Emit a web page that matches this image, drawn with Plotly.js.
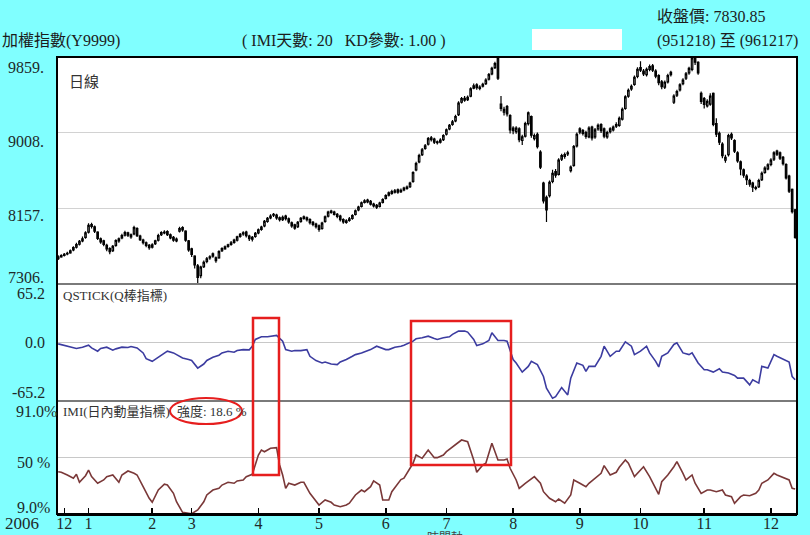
<!DOCTYPE html>
<html><head><meta charset="utf-8">
<script src="https://cdn.plot.ly/plotly-3.0.1.min.js"></script>
<style>html,body{margin:0;padding:0;background:#80FFFF;}#chart{width:810px;height:535px;}</style>
</head><body><div id="chart"></div>
<script>
// Daily candles: 加權指數 951218 ~ 961217 (trading-day index 0..243)
const openPx = [
7590,7612,7628,7645,7655,7690,7720,7755,7790,7830,
7890,7975,7950,7890,7815,7790,7740,7705,7680,7740,
7790,7825,7855,7880,7860,7870,7930,7845,7800,7770,
7740,7720,7760,7800,7860,7880,7895,7860,7830,7790,
7900,7940,7900,7790,7700,7620,7510,7400,7500,7560,
7600,7620,7600,7600,7680,7700,7730,7750,7775,7800,
7840,7870,7890,7845,7810,7840,7880,7920,7960,8010,
8050,8090,8080,8050,8030,8070,8040,7995,7970,7950,
8010,8060,8050,8030,8000,7980,7960,7930,8010,8070,
8125,8115,8090,8070,8030,8000,8020,8045,8090,8140,
8180,8225,8250,8235,8205,8190,8180,8225,8270,8305,
8325,8340,8365,8345,8365,8380,8400,8460,8590,8680,
8760,8830,8880,8950,8935,8905,8900,8930,8990,9050,
9100,9140,9210,9350,9395,9380,9420,9510,9545,9505,
9530,9560,9610,9670,9740,9840,9330,9240,9300,9200,
9060,9020,9050,8920,8970,9110,9190,8940,8990,8790,
8440,8280,8300,8460,8570,8540,8710,8740,8770,8580,
8640,8860,9050,9030,9010,8960,9070,8960,9050,9100,
9050,8960,9020,9040,9080,9090,9160,9280,9420,9500,
9550,9640,9740,9700,9660,9720,9760,9700,9650,9580,
9520,9580,9660,9350,9430,9490,9560,9620,9680,9720,
9845,9800,9450,9390,9310,9330,9450,9110,9000,8880,
8700,8760,8990,8920,8780,8680,8590,8520,8470,8440,
8380,8400,8480,8560,8600,8650,8710,8800,8780,8730,
8650,8520,8370,8140];
const highPx = [
7630,7640,7655,7670,7695,7730,7770,7800,7840,7900,
7990,7995,7965,7900,7830,7805,7760,7720,7745,7810,
7830,7870,7905,7895,7875,7960,7945,7860,7815,7785,
7755,7765,7805,7870,7900,7910,7910,7875,7845,7830,
7950,7955,7910,7800,7715,7630,7530,7510,7570,7610,
7630,7660,7615,7685,7720,7740,7760,7790,7815,7850,
7880,7900,7905,7860,7845,7890,7930,7960,8025,8060,
8090,8105,8095,8065,8075,8085,8055,8010,7985,8015,
8060,8075,8065,8045,8015,7995,7975,8005,8075,8130,
8140,8130,8105,8085,8045,8035,8060,8090,8145,8185,
8235,8260,8265,8250,8220,8205,8230,8270,8315,8345,
8365,8375,8380,8380,8400,8415,8455,8575,8680,8770,
8835,8880,8960,8970,8950,8920,8945,8990,9055,9105,
9150,9210,9360,9410,9420,9425,9520,9560,9565,9540,
9570,9620,9680,9750,9805,9859,9420,9300,9320,9215,
9080,9080,9070,8985,9130,9245,9200,9000,9010,8810,
8455,8300,8470,8590,8600,8720,8770,8785,8805,8640,
8870,9010,9070,9050,9030,9080,9085,9060,9110,9115,
9065,9030,9070,9090,9125,9190,9290,9430,9505,9550,
9650,9745,9810,9725,9740,9775,9780,9720,9665,9600,
9595,9670,9705,9440,9490,9565,9620,9690,9750,9855,
9850,9810,9470,9410,9385,9450,9460,9170,9020,8900,
8760,8995,9010,8935,8800,8695,8605,8540,8490,8455,
8410,8490,8570,8630,8665,8720,8800,8815,8795,8745,
8665,8535,8380,8150];
const lowPx = [
7575,7600,7615,7630,7645,7675,7705,7740,7775,7815,
7875,7930,7880,7800,7760,7730,7675,7640,7665,7725,
7770,7810,7840,7835,7815,7855,7835,7790,7750,7720,
7690,7705,7745,7785,7845,7865,7845,7810,7780,7775,
7885,7895,7780,7670,7610,7480,7306,7370,7485,7540,
7580,7600,7545,7590,7665,7690,7715,7735,7760,7785,
7825,7850,7830,7790,7785,7825,7865,7905,7945,7995,
8035,8060,8030,8010,8015,8020,7985,7940,7915,7935,
7995,8030,8010,7975,7955,7930,7895,7915,7995,8055,
8095,8075,8045,8010,7985,7985,8005,8030,8075,8125,
8165,8210,8215,8190,8165,8150,8165,8210,8255,8290,
8310,8325,8320,8330,8350,8365,8385,8445,8575,8665,
8745,8815,8865,8910,8880,8875,8885,8915,8975,9035,
9085,9125,9195,9335,9355,9365,9405,9495,9490,9485,
9515,9545,9595,9655,9725,9600,9250,9200,9190,9000,
8990,8995,8900,8870,8955,9090,8950,8920,8830,8600,
8210,8003,8280,8440,8500,8525,8690,8715,8745,8560,
8625,8840,8990,8975,8940,8945,8920,8940,9030,9005,
8945,8940,9000,9020,9060,9075,9145,9265,9400,9480,
9535,9620,9690,9645,9640,9700,9690,9620,9540,9495,
9500,9560,9640,9330,9410,9470,9540,9600,9660,9700,
9770,9660,9330,9280,9290,9310,9080,8960,8870,8720,
8670,8740,8925,8780,8670,8530,8500,8420,8400,8340,
8360,8385,8465,8545,8585,8630,8690,8745,8700,8640,
8480,8330,8100,7815];
const closePx = [
7610,7625,7640,7650,7680,7715,7750,7785,7815,7880,
7965,7955,7900,7820,7780,7750,7700,7670,7730,7795,
7815,7850,7885,7855,7835,7940,7850,7805,7770,7740,
7715,7745,7790,7850,7885,7890,7860,7825,7800,7810,
7930,7915,7800,7690,7640,7520,7380,7495,7550,7590,
7610,7645,7570,7670,7705,7725,7745,7770,7800,7835,
7865,7880,7850,7815,7830,7875,7915,7945,8010,8045,
8070,8080,8050,8030,8055,8040,8005,7960,7935,8000,
8045,8045,8030,7995,7975,7950,7920,7990,8060,8115,
8110,8090,8065,8030,8005,8015,8040,8075,8130,8170,
8220,8240,8230,8205,8185,8170,8215,8255,8300,8330,
8345,8355,8340,8360,8385,8395,8440,8560,8660,8750,
8815,8860,8940,8930,8900,8895,8925,8975,9040,9090,
9130,9190,9340,9390,9375,9405,9500,9535,9515,9520,
9550,9600,9660,9730,9785,9620,9280,9270,9220,9040,
9030,9060,8930,8960,9110,9230,8980,8975,8850,8620,
8240,8140,8450,8550,8530,8700,8750,8760,8780,8620,
8850,8990,9015,9000,8965,9060,8950,9040,9090,9030,
8970,9010,9050,9070,9100,9170,9270,9410,9485,9530,
9630,9720,9710,9670,9720,9750,9710,9645,9570,9525,
9575,9650,9685,9420,9470,9545,9600,9670,9730,9850,
9800,9680,9360,9325,9360,9420,9100,8990,8900,8750,
8730,8975,8950,8800,8690,8600,8530,8480,8430,8395,
8390,8470,8550,8610,8645,8700,8780,8765,8720,8660,
8500,8350,8120,7831];

// QSTICK (Q棒指標)
const qDay = [0,2,4,6,8,10,11,13,14,16,18,19,21,23,24,26,28,29,31,33,34,36,38,39,41,43,44,46,48,49,51,53,54,56,58,59,61,63,64,65,67,69,70,72,74,75,77,78,80,82,83,85,87,88,90,92,93,95,97,98,100,102,103,105,106,108,109,111,113,114,117,118,120,122,124,125,127,129,130,132,134,135,137,138,140,142,143,145,147,148,150,151,153,155,156,158,160,161,163,164,166,168,169,171,173,174,175,177,179,180,182,184,185,187,189,190,192,194,195,197,198,199,201,203,204,206,208,209,211,213,214,216,218,219,221,223,224,226,228,229,231,232,234,236,237,239,241,242,243];
const qVal = [-1.5,-3.4,-5.2,-6.7,-5.2,-3.0,-6.0,-9.7,-6.7,-5.2,-8.6,-7.1,-5.2,-5.6,-4.5,-6.0,-11.6,-18,-21,-16.5,-13.5,-9.7,-11.6,-13.5,-17.2,-19,-20,-28.5,-24,-20,-16.5,-14.2,-11.6,-9.7,-10.8,-9,-7.9,-8.2,-4.1,3.4,6.4,6.4,7.1,7.9,1.5,-7.9,-9.7,-9,-9,-7.9,-15.4,-20.2,-22.8,-21.7,-24,-24.7,-21.7,-19,-15.4,-13.5,-11.6,-9,-7.9,-4.1,-5.2,-7.9,-7.9,-5.2,-4.1,-3.0,1.5,4.1,5.2,7.1,4.5,3.4,5.2,6.4,9,12.7,12.7,11.6,3.4,-3.4,-1.5,2.2,10.9,2.2,2.2,1.5,-19,-22.8,-33,-26.6,-21,-24.7,-37.9,-50.9,-62.2,-60.4,-50.2,-58.4,-39.7,-22.8,-25.5,-32.2,-26.6,-26.6,-15.4,-4.1,-15.4,-9.7,-9.7,0.7,-4.1,-13.5,-9.7,-4.1,-11.6,-21,-27.3,-15.4,-11.6,-2.2,-0.4,-11.6,-13.5,-11.6,-22.8,-30.3,-30.3,-33,-29.2,-33,-34,-36.7,-39.7,-39.7,-47.2,-41.6,-45.3,-26.6,-28.5,-13.5,-15.4,-19,-21.7,-37.9,-41.6];

// IMI (日內動量指標), %
const imiDay = [0,1,3,5,6,7,9,10,11,13,15,16,18,20,21,23,25,26,28,30,31,33,35,36,38,39,41,43,44,46,48,49,51,53,54,56,58,59,61,62,64,66,67,68,70,72,73,74,75,76,78,80,81,83,85,86,88,90,91,93,95,96,98,100,101,103,104,106,107,109,110,113,114,117,118,120,122,124,125,127,128,130,132,133,135,137,138,140,141,143,145,147,148,149,151,152,154,156,157,159,160,162,164,165,167,169,170,172,174,175,177,179,180,182,184,185,187,188,190,192,193,195,197,198,199,201,203,204,206,207,209,210,212,214,215,217,219,220,222,223,225,226,228,230,231,232,234,236,237,239,241,242,243];
const imiVal = [39.7,39.3,37.3,34.9,37.8,32.0,36.8,40.9,36.1,31.3,33.7,36.1,37.3,32.0,37.3,40.2,38.5,37.3,28.8,20.4,17.5,26.4,30.6,30.0,24.0,17.9,10.2,9.4,9.2,11.9,17.9,22.8,26.4,27.6,30.0,32.0,31.3,33.0,33.7,36.1,37.8,51.8,55.4,54.2,56.7,57.1,44.6,37.3,27.6,31.3,30.0,32.0,32.0,24.0,17.9,15.5,19.2,17.5,15.5,14.3,15.5,16.8,22.8,26.4,25.2,28.8,33.0,30.0,19.2,19.2,25.2,34.0,35.0,45.8,51.8,49.4,55.4,49.9,49.9,51.8,54.2,57.8,61.5,62.7,61.5,48.2,39.3,44.6,45.8,60.3,48.2,48.2,48.9,42.2,33.7,27.6,31.3,34.9,36.1,31.3,25.2,20.4,17.9,19.9,16.8,22.8,33.7,31.3,28.8,31.3,34.9,38.5,44.1,37.3,39.3,42.9,48.2,45.8,36.1,40.9,43.3,36.1,27.6,23.3,32.4,37.3,43.3,47.0,38.5,33.7,37.3,31.3,24.0,26.4,26.4,25.2,26.4,22.8,21.6,16.8,21.6,22.8,22.3,24.0,26.4,31.3,33.7,38.5,37.3,35.3,33.7,27.6,27.1];

// x-axis month ticks
const monthTickDay = [2,10,31,44,66,86,108,128,150,172,192,213,235];
const monthLabels = ['12','1','2','3','4','5','6','7','8','9','10','11','12'];

// y labels
const priceTicks = ['9859.','9008.','8157.','7306.'];
const qTicks = ['65.2','0.0','-65.2'];
const imiTicks = ['91.0%','50 %','9.0%'];

const dayIdx = closePx.map((_, i) => i);

// pixel -> paper helpers (plot area 57..797 x 57..514)
const PX = x => (x - 57) / 740;
const PY = y => (514 - y) / 457;

const serif = 'Liberation Serif, "Noto Sans CJK TC", serif';
const txtCol = '#1c1c1c';
const labCol = '#1e2a2a';

function ann(text, x, y, anchor, size, color) {
  return {text: text, xref: 'paper', yref: 'paper', x: PX(x), y: PY(y),
    xanchor: anchor, yanchor: 'middle', showarrow: false,
    font: {family: serif, size: size, color: color || txtCol}};
}

const traces = [
  {type: 'candlestick', x: dayIdx, open: openPx, high: highPx, low: lowPx, close: closePx,
   xaxis: 'x', yaxis: 'y', whiskerwidth: 0, hoverinfo: 'skip', showlegend: false,
   increasing: {line: {color: '#000', width: 1.2}, fillcolor: '#FFFFFF'},
   decreasing: {line: {color: '#000', width: 1.2}, fillcolor: '#000000'}},
  {type: 'scatter', mode: 'lines', x: qDay, y: qVal, xaxis: 'x', yaxis: 'y2',
   line: {color: '#3C3CA0', width: 1.6}, hoverinfo: 'skip', showlegend: false},
  {type: 'scatter', mode: 'lines', x: imiDay, y: imiVal, xaxis: 'x', yaxis: 'y3',
   line: {color: '#7A3838', width: 1.6}, hoverinfo: 'skip', showlegend: false}
];

const annotations = [
  ann('加權指數(Y9999)', 0, 41, 'left', 16),
  ann('(\u00a0IMI天數:\u00a020\u00a0\u00a0\u00a0KD參數:\u00a01.00\u00a0)', 240, 41, 'left', 16),
  ann('收盤價:\u00a07830.85', 655, 17, 'left', 16),
  ann('(951218)\u00a0至\u00a0(961217)', 655, 41, 'left', 16),
  ann('日線', 67, 82, 'left', 15, '#333'),
  ann('QSTICK(Q棒指標)', 61, 295, 'left', 13, '#333'),
  ann('IMI(日內動量指標)', 61, 411, 'left', 13, '#333'),
  ann('強度:\u00a018.6\u00a0%', 175, 411, 'left', 13, '#333'),
  ann(priceTicks[0], 6, 68, 'left', 16, labCol),
  ann(priceTicks[1], 6, 141, 'left', 16, labCol),
  ann(priceTicks[2], 6, 215, 'left', 16, labCol),
  ann(priceTicks[3], 6, 277, 'left', 16, labCol),
  ann(qTicks[0], 31, 293, 'center', 16, labCol),
  ann(qTicks[1], 35, 342, 'center', 16, labCol),
  ann(qTicks[2], 28, 392, 'center', 16, labCol),
  ann(imiTicks[0], 36, 411, 'center', 16, labCol),
  ann(imiTicks[1], 33, 462, 'center', 16, labCol),
  ann(imiTicks[2], 33, 507, 'center', 16, labCol),
  ann('2006', 22, 523, 'center', 17, labCol),
  ann('時間軸', 445, 538, 'center', 12, '#444')
];

const red = '#E61E1E';
const shapes = [
  {type: 'rect', xref: 'paper', yref: 'paper', x0: PX(532), x1: PX(622), y0: PY(50), y1: PY(29),
   fillcolor: '#FFFFFF', line: {width: 0}},
  {type: 'line', xref: 'paper', yref: 'paper', x0: 0, x1: 1, y0: PY(284), y1: PY(284),
   line: {color: '#7a7a7a', width: 2}},
  {type: 'line', xref: 'paper', yref: 'paper', x0: 0, x1: 1, y0: PY(401), y1: PY(401),
   line: {color: '#7a7a7a', width: 2}},
  {type: 'rect', xref: 'paper', yref: 'paper', x0: 0, x1: 1, y0: 0, y1: 1,
   line: {color: '#000', width: 2}},
  {type: 'rect', xref: 'paper', yref: 'paper', x0: PX(253), x1: PX(279), y0: PY(475), y1: PY(318),
   line: {color: red, width: 2.5}, layer: 'above'},
  {type: 'rect', xref: 'paper', yref: 'paper', x0: PX(411), x1: PX(511), y0: PY(465), y1: PY(321),
   line: {color: red, width: 2.5}, layer: 'above'},
  {type: 'circle', xref: 'paper', yref: 'paper', x0: PX(170), x1: PX(242), y0: PY(424), y1: PY(398),
   line: {color: red, width: 2}, layer: 'above'}
];

const layout = {
  width: 810, height: 535,
  paper_bgcolor: '#80FFFF', plot_bgcolor: '#FFFFFF',
  margin: {l: 57, r: 13, t: 57, b: 21, pad: 0},
  showlegend: false,
  xaxis: {range: [-0.4, 243.6], anchor: 'y3', tickmode: 'array', tickvals: monthTickDay, ticktext: monthLabels,
    ticks: 'inside', ticklen: 6, tickwidth: 1.5, tickcolor: '#000', showgrid: false, zeroline: false,
    showline: true, linecolor: '#000', linewidth: 2, ticklabelstandoff: -6,
    tickfont: {family: serif, size: 16, color: labCol}, rangeslider: {visible: false}, fixedrange: true},
  yaxis: {domain: [PY(284), 1], range: [7306, 9859], tickmode: 'array', tickvals: [9008, 8157],
    showticklabels: false, ticks: '', gridcolor: '#d2d2d2', gridwidth: 1.5, zeroline: false, fixedrange: true},
  yaxis2: {domain: [PY(401), PY(284)], range: [-65.2, 65.2], tickmode: 'array', tickvals: [0],
    showticklabels: false, ticks: '', gridcolor: '#c8c8c8', gridwidth: 1.5, zeroline: false, fixedrange: true},
  yaxis3: {domain: [0, PY(401)], range: [9, 91], tickmode: 'array', tickvals: [50],
    showticklabels: false, ticks: '', gridcolor: '#c8c8c8', gridwidth: 1.5, zeroline: false, fixedrange: true},
  shapes: shapes,
  annotations: annotations
};

Plotly.newPlot('chart', traces, layout, {staticPlot: true, displayModeBar: false});
</script>
</body></html>
